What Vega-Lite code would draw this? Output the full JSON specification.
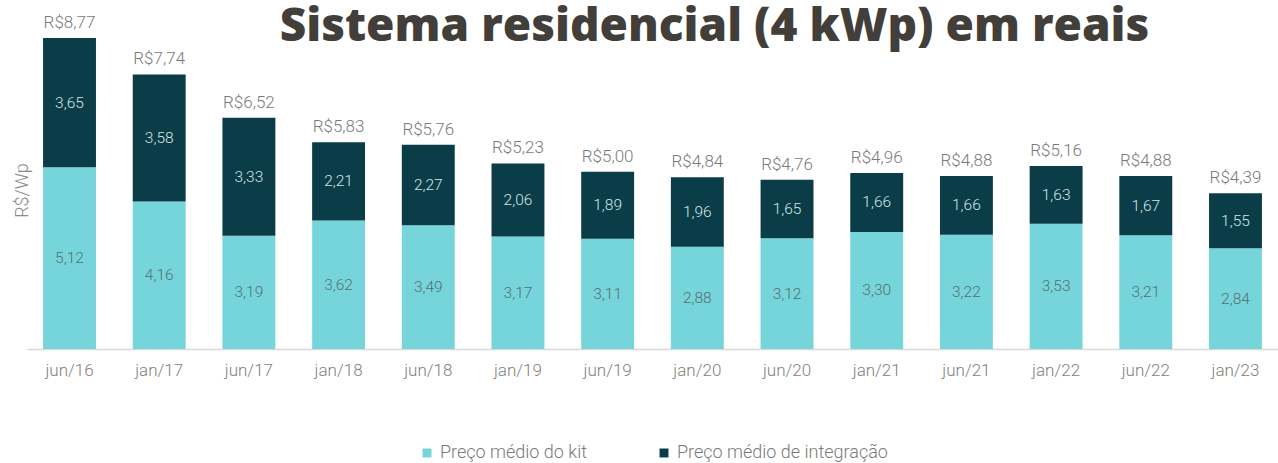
{
  "$schema": "https://vega.github.io/schema/vega-lite/v6.json",
  "width": 1251,
  "height": 337,
  "autosize": {"type": "none"},
  "padding": {"left": 27, "top": 12, "right": 0, "bottom": 114},
  "background": "white",
  "title": {
    "text": "Sistema residencial (4 kWp) em reais",
    "font": "Open Sans",
    "fontWeight": 800,
    "fontSize": 46,
    "color": "#423e3a",
    "anchor": "middle",
    "frame": "group",
    "dx": 62,
    "offset": -39
  },
  "data": {
    "values": [
      {"periodo": "jun/16", "serie": "Preço médio do kit", "valor": 5.12, "total": 8.77},
      {"periodo": "jun/16", "serie": "Preço médio de integração", "valor": 3.65, "total": 8.77},
      {"periodo": "jan/17", "serie": "Preço médio do kit", "valor": 4.16, "total": 7.74},
      {"periodo": "jan/17", "serie": "Preço médio de integração", "valor": 3.58, "total": 7.74},
      {"periodo": "jun/17", "serie": "Preço médio do kit", "valor": 3.19, "total": 6.52},
      {"periodo": "jun/17", "serie": "Preço médio de integração", "valor": 3.33, "total": 6.52},
      {"periodo": "jan/18", "serie": "Preço médio do kit", "valor": 3.62, "total": 5.83},
      {"periodo": "jan/18", "serie": "Preço médio de integração", "valor": 2.21, "total": 5.83},
      {"periodo": "jun/18", "serie": "Preço médio do kit", "valor": 3.49, "total": 5.76},
      {"periodo": "jun/18", "serie": "Preço médio de integração", "valor": 2.27, "total": 5.76},
      {"periodo": "jan/19", "serie": "Preço médio do kit", "valor": 3.17, "total": 5.23},
      {"periodo": "jan/19", "serie": "Preço médio de integração", "valor": 2.06, "total": 5.23},
      {"periodo": "jun/19", "serie": "Preço médio do kit", "valor": 3.11, "total": 5.00},
      {"periodo": "jun/19", "serie": "Preço médio de integração", "valor": 1.89, "total": 5.00},
      {"periodo": "jan/20", "serie": "Preço médio do kit", "valor": 2.88, "total": 4.84},
      {"periodo": "jan/20", "serie": "Preço médio de integração", "valor": 1.96, "total": 4.84},
      {"periodo": "jun/20", "serie": "Preço médio do kit", "valor": 3.12, "total": 4.76},
      {"periodo": "jun/20", "serie": "Preço médio de integração", "valor": 1.65, "total": 4.76},
      {"periodo": "jan/21", "serie": "Preço médio do kit", "valor": 3.30, "total": 4.96},
      {"periodo": "jan/21", "serie": "Preço médio de integração", "valor": 1.66, "total": 4.96},
      {"periodo": "jun/21", "serie": "Preço médio do kit", "valor": 3.22, "total": 4.88},
      {"periodo": "jun/21", "serie": "Preço médio de integração", "valor": 1.66, "total": 4.88},
      {"periodo": "jan/22", "serie": "Preço médio do kit", "valor": 3.53, "total": 5.16},
      {"periodo": "jan/22", "serie": "Preço médio de integração", "valor": 1.63, "total": 5.16},
      {"periodo": "jun/22", "serie": "Preço médio do kit", "valor": 3.21, "total": 4.88},
      {"periodo": "jun/22", "serie": "Preço médio de integração", "valor": 1.67, "total": 4.88},
      {"periodo": "jan/23", "serie": "Preço médio do kit", "valor": 2.84, "total": 4.39},
      {"periodo": "jan/23", "serie": "Preço médio de integração", "valor": 1.55, "total": 4.39}
    ]
  },
  "encoding": {
    "x": {
      "field": "periodo",
      "type": "nominal",
      "sort": null,
      "scale": {"paddingInner": 0.41, "paddingOuter": 0.179},
      "axis": {
        "title": null,
        "labelAngle": 0,
        "ticks": false,
        "domainColor": "#d9d9d9",
        "domainWidth": 1.5,
        "labelColor": "#7f7f7f",
        "labelFont": "Roboto",
        "labelFontSize": 17,
        "labelFontWeight": 300,
        "labelPadding": 13
      }
    }
  },
  "layer": [
    {
      "mark": {"type": "bar"},
      "encoding": {
        "y": {
          "field": "valor",
          "type": "quantitative",
          "stack": "zero",
          "scale": {"domain": [0, 9.5], "nice": false},
          "axis": {
            "title": "R$/Wp",
            "labels": false,
            "ticks": false,
            "domain": false,
            "grid": false,
            "titleFont": "Roboto",
            "titleFontSize": 18,
            "titleFontWeight": 300,
            "titleColor": "#8a8a8a",
            "titleX": -5,
            "titleY": 178,
            "titleAngle": 270,
            "titleAlign": "center",
            "titleBaseline": "middle"
          }
        },
        "color": {
          "field": "serie",
          "type": "nominal",
          "scale": {
            "domain": ["Preço médio do kit", "Preço médio de integração"],
            "range": ["#76d5da", "#0a3d47"]
          },
          "legend": {
            "orient": "bottom",
            "direction": "horizontal",
            "title": null,
            "symbolType": "square",
            "symbolSize": 80,
            "symbolStrokeWidth": 0,
            "labelFont": "Roboto",
            "labelFontSize": 18,
            "labelFontWeight": 300,
            "labelColor": "#7a7a7a",
            "labelOffset": 4,
            "labelLimit": 400,
            "columnPadding": 68,
            "offset": 66
          }
        },
        "order": {"field": "serie", "sort": "descending"}
      }
    },
    {
      "mark": {"type": "text", "font": "Roboto", "fontSize": 15.5, "fontWeight": 300, "baseline": "middle"},
      "encoding": {
        "y": {"field": "valor", "type": "quantitative", "stack": "zero", "bandPosition": 0.5},
        "detail": {"field": "serie"},
        "order": {"field": "serie", "sort": "descending"},
        "text": {"field": "valor", "type": "quantitative", "format": ".2f"},
        "color": {
          "condition": {"test": "datum.serie == 'Preço médio de integração'", "value": "#d3e6e8"},
          "value": "#55706f"
        }
      }
    },
    {
      "transform": [{"filter": "datum.serie == 'Preço médio do kit'"}],
      "mark": {"type": "text", "font": "Roboto", "fontSize": 17, "fontWeight": 300, "baseline": "alphabetic", "dy": -10, "color": "#7a7a7a"},
      "encoding": {
        "y": {"field": "total", "type": "quantitative"},
        "text": {"field": "total", "type": "quantitative", "format": "$.2f"}
      }
    }
  ],
  "config": {
    "view": {"stroke": null},
    "legend": {"layout": {"bottom": {"anchor": "middle"}}},
    "locale": {
      "number": {
        "decimal": ",",
        "thousands": ".",
        "grouping": [3],
        "currency": ["R$", ""]
      }
    }
  }
}
